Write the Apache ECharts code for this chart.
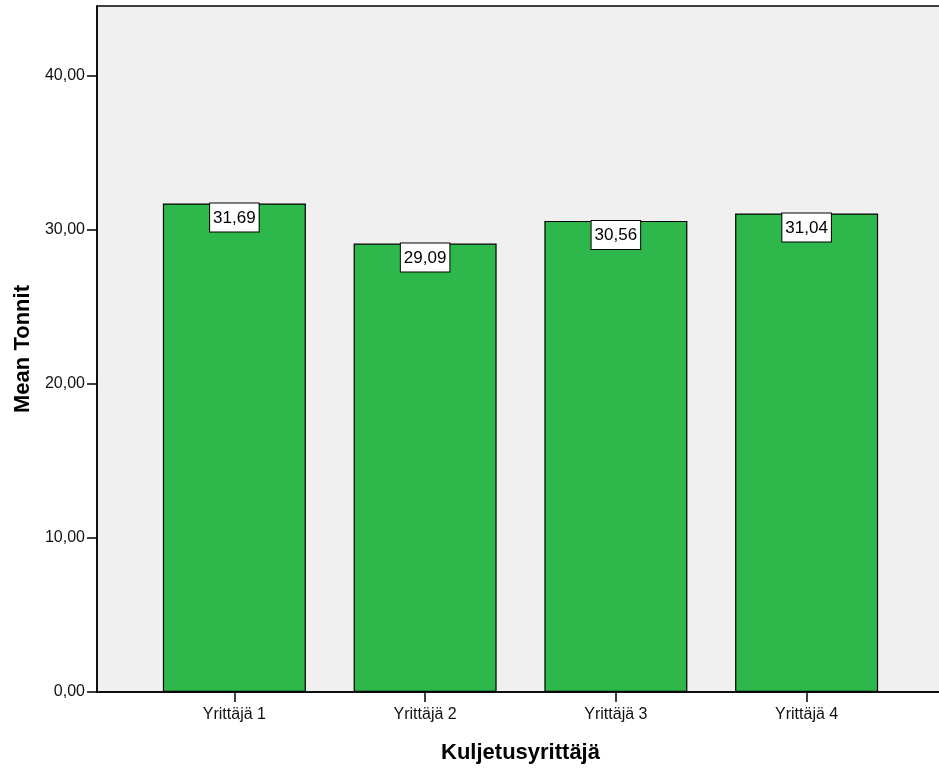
<!DOCTYPE html>
<html>
<head>
<meta charset="utf-8">
<script src="https://cdn.jsdelivr.net/npm/echarts@6/dist/echarts.min.js"></script>
<style>
  html, body { margin: 0; padding: 0; background: #fff; }
  #chart { width: 939px; height: 769px; }
</style>
</head>
<body>
<div id="chart"></div>
<script>
// Mean tonnage per transport contractor
const categories = ['Yrittäjä 1', 'Yrittäjä 2', 'Yrittäjä 3', 'Yrittäjä 4'];
const meanTonnit = [31.69, 29.09, 30.56, 31.04];
const yTicks = [0, 10, 20, 30, 40];

const Y_MAX = 44.5;
const FONT = 'Arial, "Liberation Sans", sans-serif';
const fmt = v => v.toFixed(2).replace('.', ',');

const chart = echarts.init(document.getElementById('chart'), null, { renderer: 'canvas' });

chart.setOption({
  animation: false,
  backgroundColor: '#ffffff',
  textStyle: { fontFamily: FONT },
  grid: [
    // frame: grey plot area, left and bottom axes
    { left: 97, top: 6, right: -5, bottom: 77, show: true, backgroundColor: '#f0f0f0',
      borderColor: '#000', borderWidth: 1.5, containLabel: false, outerBoundsMode: 'none' },
    // bars sit in a narrower band inside the frame
    { left: 139, top: 6, right: 37, bottom: 77, containLabel: false, outerBoundsMode: 'none' }
  ],
  xAxis: [
    { gridIndex: 0, type: 'value', min: 0, max: 1, show: true,
      axisLine: { show: true, lineStyle: { color: '#000', width: 1.5 } },
      axisTick: { show: false }, axisLabel: { show: false }, splitLine: { show: false },
      name: 'Kuljetusyrittäjä', nameLocation: 'middle', nameGap: 50,
      nameTextStyle: { fontFamily: FONT, fontWeight: 'bold', fontSize: 22, color: '#000' } },
    { gridIndex: 1, type: 'category', data: categories,
      axisLine: { show: false },
      axisTick: { show: true, alignWithLabel: true, length: 10, lineStyle: { color: '#000', width: 1.5 } },
      axisLabel: { fontFamily: FONT, fontSize: 16, color: '#111', margin: 15 } }
  ],
  yAxis: [
    { gridIndex: 0, type: 'value', min: 0, max: Y_MAX, interval: 10,
      axisLine: { show: true, lineStyle: { color: '#000', width: 1.5 } },
      axisTick: { show: true, length: 10, customValues: yTicks, lineStyle: { color: '#000', width: 1.5 } },
      axisLabel: { fontFamily: FONT, fontSize: 16, color: '#111', margin: 12,
        customValues: yTicks, formatter: v => fmt(v) },
      splitLine: { show: false },
      name: 'Mean Tonnit', nameLocation: 'middle', nameGap: 61, nameRotate: 90,
      nameTextStyle: { fontFamily: FONT, fontWeight: 'bold', fontSize: 22, color: '#000' } },
    { gridIndex: 1, type: 'value', min: 0, max: Y_MAX, show: false }
  ],
  series: [{
    type: 'bar',
    xAxisIndex: 1, yAxisIndex: 1,
    data: meanTonnit,
    barWidth: 143,
    itemStyle: { color: '#2eb84b', borderColor: '#000', borderWidth: 1.2 },
    label: {
      show: true, position: 'insideTop', distance: 0,
      formatter: p => fmt(p.value),
      fontFamily: FONT, fontSize: 17, color: '#000',
      backgroundColor: '#fff', borderColor: '#000', borderWidth: 1,
      padding: [6, 3, 5, 3]
    }
  }]
});
</script>
</body>
</html>
